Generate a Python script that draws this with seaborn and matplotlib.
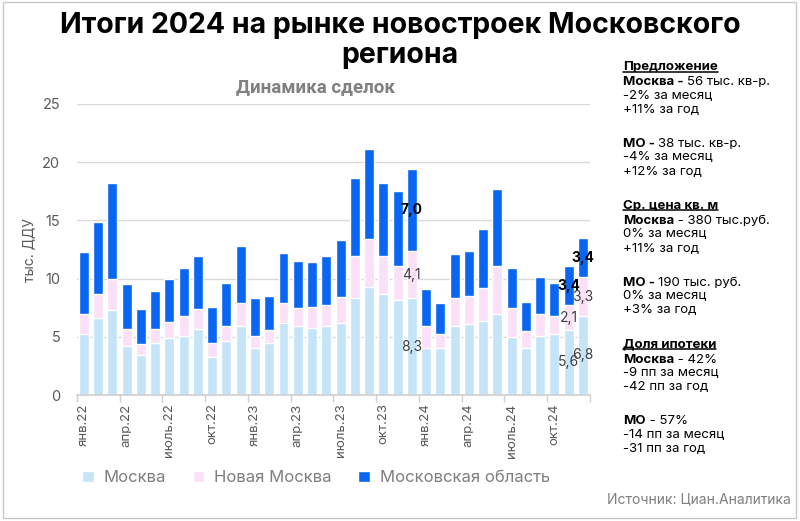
import matplotlib
matplotlib.use("Agg")
import matplotlib.pyplot as plt
from matplotlib.patches import Rectangle
from matplotlib.lines import Line2D
import seaborn as sns
import pandas as pd

# данные: тыс. ДДУ по месяцам, янв.22 - дек.24
month_names = ['янв', 'фев', 'мар', 'апр', 'май', 'июнь',
               'июль', 'авг', 'сен', 'окт', 'ноя', 'дек']
months = [f"{m}.{y}" for y in ('22', '23', '24') for m in month_names]

moscow = [5.2, 6.6, 7.3, 4.2, 3.4, 4.5, 4.9, 5.1, 5.7, 3.3, 4.6, 5.9,
          4.0, 4.5, 6.2, 5.9, 5.8, 5.9, 6.2, 8.3, 9.3, 8.7, 8.2, 8.3,
          4.0, 4.0, 5.9, 6.1, 6.4, 7.0, 5.0, 4.0, 5.1, 5.2, 5.6, 6.8]
new_moscow = [1.8, 2.1, 2.7, 1.5, 1.0, 1.2, 1.4, 1.7, 1.7, 1.2, 1.3, 2.0,
              1.1, 1.1, 1.7, 1.6, 1.8, 1.8, 2.2, 3.6, 4.1, 3.2, 2.9, 4.1,
              1.9, 1.2, 2.4, 2.4, 2.8, 4.1, 2.5, 1.5, 1.9, 1.6, 2.1, 3.3]
region = [5.3, 6.2, 8.2, 3.8, 3.0, 3.2, 3.7, 4.1, 4.5, 3.1, 3.7, 4.9,
          3.2, 2.9, 4.3, 4.0, 3.8, 4.2, 4.9, 6.7, 7.7, 6.3, 6.4, 7.0,
          3.2, 2.7, 3.8, 3.9, 5.1, 6.6, 3.4, 2.5, 3.1, 2.8, 3.4, 3.4]

labelled = ['дек.23', 'ноя.24', 'дек.24']   # столбцы с подписями значений

series_names = ['Москва', 'Новая Москва', 'Московская область']
colors = ['#c5e4f8', '#fbe1f8', '#0866f2']

side_text = [
    ('Предложение', '', 'head'),
    ('Москва - ', '56 тыс. кв-р.', 'line'),
    ('', '-2% за месяц', 'line'),
    ('', '+11% за год', 'line'),
    None,
    ('МО - ', '38 тыс. кв-р.', 'line'),
    ('', '-4% за месяц', 'line'),
    ('', '+12% за год', 'line'),
    None,
    ('Ср. цена кв. м', '', 'head'),
    ('Москва', ' - 380 тыс.руб.', 'line'),
    ('', '0% за месяц', 'line'),
    ('', '+11% за год', 'line'),
    None,
    ('МО - ', '190 тыс. руб.', 'line'),
    ('', '0% за месяц', 'line'),
    ('', '+3% за год', 'line'),
    None,
    ('Доля ипотеки', '', 'head'),
    ('Москва', ' - 42%', 'line'),
    ('', '-9 пп за месяц', 'line'),
    ('', '-42 пп за год', 'line'),
    None,
    ('МО', ' - 57%', 'line'),
    ('', '-14 пп за месяц', 'line'),
    ('', '-31 пп за год', 'line'),
]

df = pd.DataFrame({'month': months, 'moscow': moscow,
                   'new_moscow': new_moscow, 'region': region})
df['level2'] = df['moscow'] + df['new_moscow']
df['total'] = df['level2'] + df['region']

sns.set_theme(style='white')
plt.rcParams['font.family'] = ['Inter', 'DejaVu Sans']

fig = plt.figure(figsize=(8, 5.21), dpi=100)
ax = fig.add_axes([0.096, 0.2418, 0.6415, 0.5586])

# накопленные столбцы, рисуются поверх друг друга
sns.barplot(data=df, x='month', y='total', color=colors[2], width=0.7,
            saturation=1, ax=ax, label=series_names[2])
sns.barplot(data=df, x='month', y='level2', color=colors[1], width=0.7,
            saturation=1, ax=ax, label=series_names[1])
sns.barplot(data=df, x='month', y='moscow', color=colors[0], width=0.7,
            saturation=1, ax=ax, label=series_names[0])
handles, labels = ax.get_legend_handles_labels()
if ax.get_legend() is not None:
    ax.get_legend().remove()

ax.set_xlim(-0.5, len(months) - 0.5)
ax.set_ylim(0, 25)
ax.set_yticks(range(0, 26, 5))
ax.yaxis.grid(True, color='#d9d9d9', lw=1)
ax.set_axisbelow(True)
sns.despine(ax=ax, left=True)
ax.spines['bottom'].set_color('#d0d0d0')

ax.set_xticks(range(0, len(months), 3))
ax.set_xticklabels(months[::3], rotation=90, fontsize=9.5, color='#595959')
ax.set_xticks([i - 0.5 for i in range(0, len(months) + 1, 3)], minor=True)
ax.tick_params(axis='x', which='major', length=0, pad=6)
ax.tick_params(axis='x', which='minor', length=5, color='#d0d0d0', bottom=True)
ax.tick_params(axis='y', length=0, labelsize=10.5, labelcolor='#595959', pad=12)
ax.set_xlabel('')
ax.set_ylabel('тыс. ДДУ', fontsize=10, color='#595959', labelpad=4)

# подписи значений
fmt = lambda v: f"{v:.1f}".replace('.', ',')
for m in labelled:
    i = months.index(m)
    r = df.iloc[i]
    ax.text(i, r.moscow / 2, fmt(r.moscow), ha='center', va='center',
            fontsize=10, color='#404040')
    ax.text(i, r.moscow + r.new_moscow / 2, fmt(r.new_moscow), ha='center',
            va='center', fontsize=10, color='#404040')
    ax.text(i, r.level2 + r.region / 2, fmt(r.region), ha='center',
            va='center', fontsize=10, color='black', weight='bold')

order = [labels.index(n) for n in series_names]
fig.legend([handles[k] for k in order], series_names, loc='center',
           bbox_to_anchor=(0.395, 0.083), ncol=3, frameon=False,
           fontsize=12, labelcolor='#7f7f7f', handlelength=0.7,
           handleheight=0.7, handletextpad=0.6, columnspacing=1.6)

fig.text(0.5, 0.977, 'Итоги 2024 на рынке новостроек Московского\nрегиона',
         ha='center', va='top', fontsize=20.5, weight='bold', color='black',
         linespacing=1.15)
fig.text(0.394, 0.833, 'Динамика сделок', ha='center', va='center',
         fontsize=13.5, weight='bold', color='#808080', family='Roboto')
fig.text(0.989, 0.034, 'Источник: Циан.Аналитика', ha='right',
         va='baseline', fontsize=10, color='#7f7f7f')

# правая панель
x0 = 623 / 800
y_top = 70
step = 15.4
heads = []
for k, item in enumerate(side_text):
    if item is None:
        continue
    bold, rest, kind = item
    y = 1 - (y_top + k * step) / 521
    t1 = fig.text(x0, y, bold, fontsize=9.5, weight='bold', va='baseline',
                  color='black')
    if kind == 'head':
        heads.append(t1)
    if rest:
        ax.annotate(rest, xy=(1, 0), xycoords=t1, va='bottom', ha='left',
                    fontsize=9.5, color='black', annotation_clip=False)

fig.canvas.draw()
inv = fig.transFigure.inverted()
for t in heads:
    bb = t.get_window_extent()
    (xa, ya), (xb, yb) = inv.transform([[bb.x0, bb.y0], [bb.x1, bb.y1]])
    ya += 1.5 / 521
    fig.add_artist(Line2D([xa, xb], [ya, ya], color='black', lw=1.1,
                          transform=fig.transFigure))

fig.add_artist(Rectangle((3 / 800, 3 / 521), 793 / 800, 516 / 521,
                         fill=False, ec='#c8c8c8', lw=1,
                         transform=fig.transFigure))

fig.savefig('out.png', dpi=100)
